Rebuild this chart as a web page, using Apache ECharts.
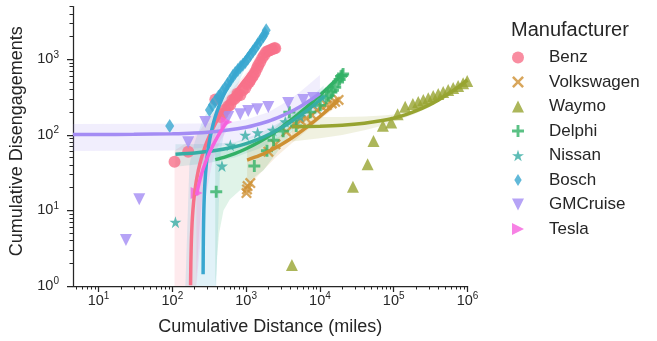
<!DOCTYPE html>
<html><head><meta charset="utf-8">
<script src="https://cdn.jsdelivr.net/npm/echarts@6/dist/echarts.min.js"></script>
<style>html,body{margin:0;padding:0;background:#fff}#c{width:657px;height:341px}</style>
</head><body><div id="c"></div>
<script>
const FONT = '"Liberation Sans", Arial, sans-serif';
const INK = '#262626';
const X_MIN = 4.5, X_MAX = 1e6, Y_MIN = 1, Y_MAX = 5000;
const xMajorTicks = [10, 100, 1000, 10000, 100000, 1000000];
const yMajorTicks = [1, 10, 100, 1000];

const manufacturers = ['Benz','Volkswagen','Waymo','Delphi','Nissan','Bosch','GMCruise','Tesla'];
const colors = ['#f77189','#ce9032','#97a431','#32b166','#36ada4','#39a7d0','#a48cf4','#f561dd'];

// scatter points [miles, disengagements]
const benzPts = [[107,44],[164,60],[382,295],[760,326],[446,172],[480,190],[520,215],[570,240],[610,250],[650,290],[700,300],[760,350],[835,336],[900,390],[975,416],[1040,470],[1100,500],[1140,531],[1200,580],[1260,620],[1330,677],[1400,760],[1460,835],[1550,920],[1650,1037],[1750,1130],[1860,1245],[1980,1290],[2100,1320],[2250,1360],[2400,1400],[2480,1400]];
const vwPts = [[1010,17],[1026,19],[1045,21],[1138,23],[2000,60],[2500,75],[3500,110],[4500,140],[5500,155],[6500,165],[7800,183],[9100,213],[10650,236],[12400,248],[14500,261],[16100,274],[17900,290]];
const waymoPts = [[4170,1.9],[28000,20.6],[44300,41],[53200,83],[71300,132],[92400,146],[113000,187],[143000,235],[182000,256],[215000,272],[252000,289],[294000,306],[343000,326],[401000,347],[468000,369],[547000,392],[640000,416],[747000,442],[873000,484],[990000,515]];
const delphiPts = [[393,17.7],[1290,38.7],[1914,61.6],[2350,85],[3170,112],[3850,200],[4770,131],[7400,200],[10100,246],[12200,306],[13000,330],[14300,368],[15000,390],[16100,427],[17600,500],[18500,540],[19300,595],[20000,610],[20600,640]];
const nissanPts = [[110,7],[470,38.7],[610,73],[973,99],[1430,107],[2300,115],[3390,149],[5400,175],[8200,260],[10600,318]];
const boschPts = [[92,131],[318,213],[349,248],[382,280],[420,320],[446,335],[480,380],[520,416],[560,470],[610,530],[660,600],[711,660],[770,720],[835,790],[900,850],[975,920],[1050,1020],[1140,1140],[1230,1270],[1330,1400],[1440,1580],[1560,1780],[1700,2000],[1800,2200],[1870,2430]];
const gmPts = [[23.5,4.06],[35.6,14.1],[164,80],[279,148],[571,172],[832,188],[1067,207],[1413,219],[1995,233],[3715,264],[5940,289],[8110,307]];
const teslaPts = [[213,17],[541,148]];

// fitted lines [miles, disengagements]
const benzFit = [[176.5,1.02],[178,2.04],[181,4.08],[185,6.8],[190,10.2],[198,15.6],[210,23.8],[225,34],[245,47.6],[270,64.6],[300,85],[350,119],[420,166.6],[520,234.6],[650,323],[820,438.6],[1050,595],[1350,799],[1700,1037],[2100,1309],[2480,1567]];
const vwFit = [[1030,46.4],[1500,53],[2200,63],[3000,74.6],[4000,88.9],[5000,103.2],[6500,124.7],[8000,146],[10000,175],[12500,210.6],[15000,246.4],[17900,288]];
const waymoFit = [[4170,128],[10000,130.4],[20000,134.4],[40000,142.5],[70000,154.7],[100000,166.8],[150000,187],[200000,207.3],[300000,247.8],[400000,288.3],[500000,328.8],[600000,369.3],[700000,409.8],[800000,450.3],[900000,490.8],[1000000,531.3]];
const delphiFit = [[381,47],[500,50.5],[700,56.5],[1000,65.5],[1500,80.4],[2200,101.3],[3000,125.2],[4000,155],[5000,185],[6500,229.8],[8000,274.6],[10000,334],[12500,409],[15000,484],[17500,558.3],[20600,651]];
const nissanFit = [[110,55.6],[200,57.7],[400,62.5],[700,69.6],[1000,76.7],[1500,88.6],[2200,105],[3000,124],[4000,148],[5000,171.5],[6500,207],[8000,242.6],[9500,278],[11200,318.4]];
const boschFit = [[261,1.43],[263,4.3],[267,10],[275,21.5],[290,42.9],[310,71.5],[340,114],[380,172],[440,257],[520,372],[620,515],[750,701],[900,915],[1100,1201],[1350,1559],[1600,1916],[1870,2302]];
const gmFit = [[4.5,101.1],[10,101.3],[30,101.8],[100,103.5],[300,108.6],[1000,126.3],[2000,151.6],[3000,176.9],[4000,202.2],[5000,227.5],[6000,252.8],[7000,278.1],[8000,303.4],[9000,328.7],[10000,354]];
const teslaFit = [[212,15.9],[230,23],[260,35],[300,50.8],[350,70.7],[420,98.5],[490,126],[555,152]];

// confidence bands [miles, low, high]
const benzBand = [[107,0,62],[130,0,70],[160,0,80],[190,0,92],[210,0,100],[230,5,110],[260,20,130],[300,50,160],[400,110,220],[600,240,370],[1000,510,660],[1500,860,1020],[2000,1200,1380],[2480,1520,1750]];
const vwBand = [[1030,20,80],[1500,30,80],[2500,50,90],[4000,75,110],[7000,120,150],[10000,160,190],[14000,205,245],[17900,250,330]];
const waymoBand = [[4170,82,175],[10000,90,172],[20000,100,172],[40000,115,175],[70000,132,180],[100000,150,186],[150000,172,202],[200000,192,222],[300000,232,264],[500000,310,348],[700000,385,435],[1000000,490,575]];
const delphiBand = [[381,0,62],[395,1.5,62],[403,2.4,62],[430,5,63],[493,10,64],[600,14,66],[832,18.6,70],[1200,26,78],[1720,34,90],[3000,70,150],[5000,140,225],[8000,235,310],[12000,350,430],[16000,470,560],[20600,600,700]];
const nissanBand = [[110,38,75],[300,42,76],[700,50,80],[1500,66,104],[3000,95,150],[5000,130,210],[8000,170,330],[11200,210,450]];
const boschBand = [[150,0,1],[170,0,40],[200,0,80],[260,0,160],[320,0,230],[393,1,300],[450,60,360],[600,260,560],[1000,830,1150],[1500,1560,1960],[1870,2030,2450]];
const gmBand = [[4.5,61,139],[100,62,140],[500,72,143],[1000,85,160],[2000,105,200],[3000,125,250],[5000,155,350],[7000,180,460],[10000,200,620]];
const teslaBand = [[212,0,35],[260,10,55],[350,45,95],[450,85,140],[555,115,200]];

const ptsList = [benzPts, vwPts, waymoPts, delphiPts, nissanPts, boschPts, gmPts, teslaPts];
const fitList = [benzFit, vwFit, waymoFit, delphiFit, nissanFit, boschFit, gmFit, teslaFit];
const bandList = [benzBand, vwBand, waymoBand, delphiBand, nissanBand, boschBand, gmBand, teslaBand];

const X_PATH = 'path://M1.5,0 L5,3.5 L8.5,0 L10,1.5 L6.5,5 L10,8.5 L8.5,10 L5,6.5 L1.5,10 L0,8.5 L3.5,5 L0,1.5 Z';
const PLUS_PATH = 'path://M3.8,0 H6.2 V3.8 H10 V6.2 H6.2 V10 H3.8 V6.2 H0 V3.8 H3.8 Z';
const STAR_PATH = 'path://M50,0 L61.2,34.5 L97.6,34.5 L68.2,55.9 L79.4,90.5 L50,69.1 L20.6,90.5 L31.8,55.9 L2.4,34.5 L38.8,34.5 Z';
const THIN_DIAMOND = 'path://M4,0 L8,6.5 L4,13 L0,6.5 Z';
const TRI_DOWN = 'path://M0,0 L10,0 L5,10 Z';
const TRI_RIGHT = 'path://M0,0 L10,5 L0,10 Z';
const markers = [
  {symbol:'circle', size:12, icon:'circle'},
  {symbol:X_PATH, size:11, icon:X_PATH},
  {symbol:'triangle', size:12, icon:'triangle'},
  {symbol:PLUS_PATH, size:12, icon:PLUS_PATH},
  {symbol:STAR_PATH, size:12, icon:STAR_PATH},
  {symbol:THIN_DIAMOND, size:[9,14], icon:THIN_DIAMOND},
  {symbol:TRI_DOWN, size:12, icon:TRI_DOWN},
  {symbol:TRI_RIGHT, size:12, icon:TRI_RIGHT}
];

const xMinorTicks = [], yMinorTicks = [];
for (let d = 1; d <= 100000; d *= 10) for (let k = 2; k <= 9; k++) if (k * d >= X_MIN) xMinorTicks.push(k * d);
for (let d = 1; d <= 1000; d *= 10) for (let k = 2; k <= 9; k++) if (k * d <= Y_MAX) yMinorTicks.push(k * d);

const labelRich = {
  b: {fontSize: 14.5, fontFamily: FONT, color: INK, lineHeight: 19, verticalAlign: 'middle'},
  s: {fontSize: 10, fontFamily: FONT, color: INK, lineHeight: 11, verticalAlign: 'top'}
};
const powFmt = v => '{b|10}{s|' + Math.round(Math.log10(v)) + '}';

function bandSeries(name, band, color) {
  return {
    type: 'custom', name: name, silent: true, z: 1, clip: true,
    data: [[band[0][0], Math.max(band[0][2], Y_MIN)]],
    encode: {x: 0, y: 1},
    renderItem: function (params, api) {
      const pts = [];
      for (let i = 0; i < band.length; i++) pts.push(api.coord([band[i][0], Math.max(band[i][2], Y_MIN)]));
      for (let i = band.length - 1; i >= 0; i--) pts.push(api.coord([band[i][0], Math.max(band[i][1], Y_MIN)]));
      return {type: 'polygon', shape: {points: pts}, style: {fill: color, opacity: 0.15}};
    }
  };
}

const series = [];
manufacturers.forEach((m, i) => {
  series.push(bandSeries(m + ' ci', bandList[i], colors[i]));
});
manufacturers.forEach((m, i) => {
  series.push({
    type: 'scatter', name: m, data: ptsList[i], z: 3,
    symbol: markers[i].symbol, symbolSize: markers[i].size,
    itemStyle: {color: colors[i], opacity: 0.8}
  });
  series.push({
    type: 'line', name: m + ' fit', data: fitList[i], z: 4, silent: true,
    showSymbol: false, smooth: 0.2, clip: true,
    lineStyle: {color: colors[i], width: 3.5}
  });
});

const axisCommon = {
  type: 'log', logBase: 10,
  splitLine: {show: false}
};

const option = {
  animation: false,
  backgroundColor: '#fff',
  title: {text: 'Manufacturer', left: 511, top: 20, padding: 0,
    textStyle: {fontSize: 20, fontWeight: 'normal', color: INK, fontFamily: FONT}},
  legend: {
    orient: 'vertical', left: 512, top: 49, padding: 0,
    itemWidth: 12, itemHeight: 12, itemGap: 7.5,
    data: manufacturers.map((m, i) => ({name: m, icon: markers[i].icon})),
    textStyle: {fontSize: 17, color: INK, fontFamily: FONT, lineHeight: 17, padding: [0, 0, 0, 20]}
  },
  grid: {left: 73, top: 6.5, right: 189.5, bottom: 55, containLabel: false},
  xAxis: [
    Object.assign({}, axisCommon, {
      min: X_MIN, max: X_MAX, position: 'bottom',
      name: 'Cumulative Distance (miles)', nameLocation: 'middle', nameGap: 32,
      nameTextStyle: {fontSize: 18, color: INK, fontFamily: FONT},
      axisLine: {show: true, lineStyle: {color: INK, width: 1.25}},
      axisTick: {show: true, customValues: xMajorTicks, length: 6, lineStyle: {color: INK, width: 1.25}},
      axisLabel: {customValues: xMajorTicks, formatter: powFmt, rich: labelRich, margin: 5}
    }),
    Object.assign({}, axisCommon, {
      min: X_MIN, max: X_MAX, position: 'bottom',
      axisLine: {show: false},
      axisTick: {show: true, customValues: xMinorTicks, length: 3.5, lineStyle: {color: INK, width: 1}},
      axisLabel: {show: false}
    })
  ],
  yAxis: [
    Object.assign({}, axisCommon, {
      min: Y_MIN, max: Y_MAX, position: 'left',
      name: 'Cumulative Disengagements', nameLocation: 'middle', nameGap: 43,
      nameTextStyle: {fontSize: 18, color: INK, fontFamily: FONT, padding: [0, 0, 0, 10]},
      axisLine: {show: true, lineStyle: {color: INK, width: 1.25}},
      axisTick: {show: true, customValues: yMajorTicks, length: 6, lineStyle: {color: INK, width: 1.25}},
      axisLabel: {customValues: yMajorTicks, formatter: powFmt, rich: labelRich, margin: 14}
    }),
    Object.assign({}, axisCommon, {
      min: Y_MIN, max: Y_MAX, position: 'left',
      axisLine: {show: false},
      axisTick: {show: true, customValues: yMinorTicks, length: 3.5, lineStyle: {color: INK, width: 1}},
      axisLabel: {show: false}
    })
  ],
  series: series
};

const chart = echarts.init(document.getElementById('c'), null, {renderer: 'canvas'});
chart.setOption(option);
</script>
</body></html>
